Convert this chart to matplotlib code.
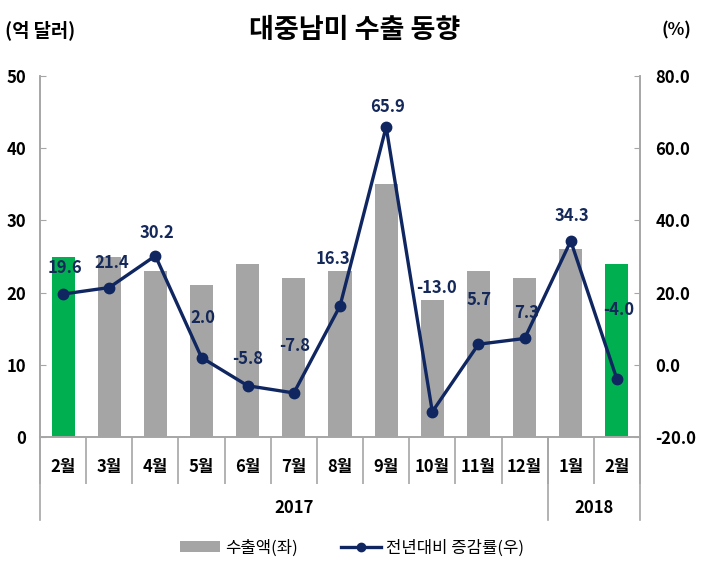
import matplotlib
matplotlib.use("Agg")
import matplotlib.pyplot as plt
from matplotlib.lines import Line2D
from matplotlib.patches import Patch
import numpy as np

plt.rcParams['font.family'] = ['Noto Sans CJK KR', 'DejaVu Sans']

months = ['2월', '3월', '4월', '5월', '6월', '7월', '8월', '9월', '10월', '11월', '12월', '1월', '2월']
years = ['2017', '2018']
year_spans = [(0, 10), (11, 12)]
exports = [25, 25, 23, 21, 24, 22, 23, 35, 19, 23, 22, 26, 24]
growth = [19.6, 21.4, 30.2, 2.0, -5.8, -7.8, 16.3, 65.9, -13.0, 5.7, 7.3, 34.3, -4.0]
highlight = [True] + [False] * 11 + [True]

# label offsets in pixels (style)
label_off = [(2, 26), (3, 25), (2, 23), (1, 40), (0, 27), (1, 47), (-7, 47),
             (1, 20), (4, 124), (1, 44), (2, 25), (1, 25), (2, 69)]

GREEN = '#00B050'
GREY = '#A5A5A5'
NAVY = '#0F2660'
LBL = '#14285A'
AXC = '#A6A6A6'

W, H = 711, 578
fig = plt.figure(figsize=(W / 100, H / 100), dpi=100)
ax = fig.add_axes([40 / W, 1 - 437 / H, 600 / W, 361 / H])
ax2 = ax.twinx()

x = np.arange(len(months))
colors = [GREEN if h else GREY for h in highlight]
ax.bar(x, exports, width=0.5, color=colors, zorder=2)
ax.set_xlim(-0.5, len(months) - 0.5)
ax.set_ylim(0, 50)
ax.set_yticks([0, 10, 20, 30, 40, 50])

ax2.plot(x, growth, color=NAVY, lw=2.4, marker='o', ms=7.5, zorder=3)
ax2.set_ylim(-20, 80)
ax2.set_yticks([-20, 0, 20, 40, 60, 80])
ax2.set_yticklabels([f'{v:.1f}' for v in [-20, 0, 20, 40, 60, 80]])

for xi, v, (dx, dy) in zip(x, growth, label_off):
    ax2.annotate(f'{v:.1f}', (xi, v), xytext=(dx, dy), textcoords='offset pixels',
                 ha='center', va='center', fontsize=12, fontweight='bold', color=LBL, zorder=4)

for a in (ax, ax2):
    a.spines['top'].set_visible(False)
    for s in ('left', 'right', 'bottom'):
        a.spines[s].set_color(AXC)
        a.spines[s].set_linewidth(1.2)

ax.tick_params(axis='y', direction='in', length=4, color=AXC, pad=10, labelsize=12)
ax2.tick_params(axis='y', direction='in', length=4, color=AXC, pad=11, labelsize=12)
for t in ax.get_yticklabels() + ax2.get_yticklabels():
    t.set_fontweight('bold')

# category boundaries as separators
bounds = np.arange(len(months) + 1) - 0.5
ax.set_xticks(bounds)
ax.set_xticklabels([''] * len(bounds))
ax.tick_params(axis='x', which='major', direction='out', length=34, color=AXC, width=1.2)
ax.set_xticks(x, minor=True)
ax.set_xticklabels(months, minor=True, fontsize=12, fontweight='bold')
ax.tick_params(axis='x', which='minor', length=0, pad=15)

trans = ax.get_xaxis_transform()
yr_bounds = [year_spans[0][0] - 0.5, year_spans[0][1] + 0.5, year_spans[1][1] + 0.5]
for b in yr_bounds:
    ax.add_line(Line2D([b, b], [0, -83 / 361], transform=trans, color=AXC, lw=1.2, clip_on=False))
for yl, (s, e) in zip(years, year_spans):
    ax.text((s + e) / 2, -(508 - 437) / 361, yl, transform=trans, ha='center', va='center',
            fontsize=12, fontweight='bold')

fig.text(355 / W, 1 - 30 / H, '대중남미 수출 동향', ha='center', va='center', fontsize=19.5, fontweight='bold')
fig.text(5 / W, 1 - 30 / H, '(억 달러)', ha='left', va='center', fontsize=13.5, fontweight='bold')
fig.text(691 / W, 1 - 30 / H, '(%)', ha='right', va='center', fontsize=12.5, fontweight='bold')

handles = [Patch(facecolor=GREY, edgecolor='none'),
           Line2D([], [], color=NAVY, lw=2.4, marker='o', ms=6)]
fig.legend(handles, ['수출액(좌)', '전년대비 증감률(우)'], loc='center', ncol=2,
           bbox_to_anchor=(352 / W, 1 - 548 / H), frameon=False, fontsize=12,
           handlelength=2.4, handleheight=0.6, handletextpad=0.3, columnspacing=2.6)

fig.savefig('out.png', dpi=100)
